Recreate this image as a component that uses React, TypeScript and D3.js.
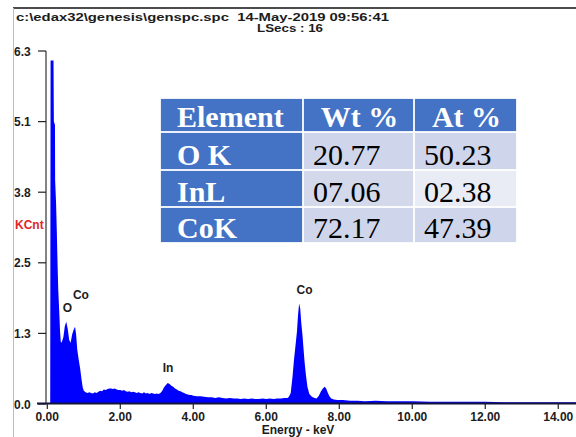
import React from "react";
import * as d3 from "d3";

// EDS spectrum: channel energy (keV) and counts (KCnt)
const energyKeV = [
  0.0, 0.08, 0.09, 0.17, 0.18, 0.21, 0.215, 0.24, 0.26, 0.28, 0.3, 0.33, 0.35, 0.37, 0.39,
  0.42, 0.44, 0.48, 0.52, 0.56, 0.6, 0.64, 0.68, 0.72, 0.76, 0.79, 0.82, 0.86, 0.9, 0.94, 0.97,
  1.0, 1.05, 1.1, 1.15, 1.2, 1.25, 1.3, 1.35, 1.4, 1.45, 1.5, 1.55, 1.6, 1.65, 1.7, 1.75, 1.8,
  1.85, 1.9, 1.95, 2.0, 2.05, 2.1, 2.15, 2.2, 2.25, 2.3, 2.35, 2.4, 2.45, 2.5, 2.55, 2.6, 2.65,
  2.7, 2.75, 2.8, 2.85, 2.9, 2.95, 3.0, 3.05, 3.1, 3.15, 3.2, 3.25, 3.3, 3.35, 3.4, 3.45, 3.5,
  3.55, 3.6, 3.65, 3.7, 3.75, 3.8, 3.85, 3.9, 3.95, 4.0, 4.1, 4.2, 4.3, 4.4, 4.5, 4.6, 4.7, 4.8,
  4.9, 5.0, 5.1, 5.2, 5.3, 5.4, 5.5, 5.6, 5.7, 5.8, 5.9, 6.0, 6.1, 6.2, 6.3, 6.4, 6.5, 6.58,
  6.62, 6.67, 6.72, 6.76, 6.8, 6.84, 6.87, 6.9, 6.93, 6.96, 6.99, 7.02, 7.05, 7.09, 7.13, 7.18,
  7.25, 7.32, 7.38, 7.44, 7.5, 7.55, 7.6, 7.64, 7.68, 7.73, 7.78, 7.85, 7.95, 8.1, 8.3, 8.5,
  8.7, 9.0, 9.3, 9.6, 10.0, 10.5, 11.0, 11.5, 12.0, 12.5, 13.0, 13.5, 14.0, 14.5,
];
const countsKCnt = [
  0, 0, 6.18, 6.18, 5.08, 5.02, 4.02, 3.62, 3.12, 2.55, 2.06, 1.62, 1.3, 1.12, 1.1,
  1.16, 1.2, 1.4, 1.48, 1.35, 1.15, 1.1, 1.25, 1.33, 1.39, 1.25, 0.98, 0.8, 0.64, 0.43, 0.3,
  0.24, 0.21, 0.2, 0.21, 0.2, 0.19, 0.21, 0.2, 0.22, 0.24, 0.23, 0.26, 0.25, 0.27, 0.28, 0.28, 0.27,
  0.28, 0.26, 0.25, 0.25, 0.24, 0.25, 0.23, 0.22, 0.23, 0.21, 0.22, 0.21, 0.2, 0.21, 0.2, 0.19, 0.21,
  0.19, 0.2, 0.18, 0.2, 0.19, 0.18, 0.19, 0.18, 0.2, 0.24, 0.3, 0.34, 0.38, 0.36, 0.33, 0.31, 0.28,
  0.26, 0.24, 0.23, 0.21, 0.2, 0.18, 0.17, 0.16, 0.16, 0.15, 0.14, 0.14, 0.13, 0.12, 0.12, 0.11, 0.12, 0.11,
  0.1, 0.11, 0.1, 0.1, 0.09, 0.1, 0.09, 0.1, 0.09, 0.09, 0.1, 0.09, 0.1, 0.09, 0.1, 0.1, 0.11, 0.11,
  0.13, 0.2, 0.5, 0.8, 1.05, 1.3, 1.6, 1.81, 1.72, 1.45, 1.25, 1.0, 0.75, 0.5, 0.3, 0.18,
  0.13, 0.11, 0.1, 0.15, 0.23, 0.28, 0.31, 0.28, 0.21, 0.14, 0.1, 0.08, 0.07, 0.07, 0.06, 0.06,
  0.05, 0.06, 0.05, 0.05, 0.05, 0.04, 0.04, 0.04, 0.04, 0.03, 0.03, 0.03, 0.03, 0.03,
];

const xTickValues = [0, 2, 4, 6, 8, 10, 12, 14];
const yTickValues = [0, 1.27, 2.54, 3.81, 5.08, 6.35];
const yTickLabels = ["0.0", "1.3", "2.5", "3.8", "5.1", "6.3"];

const peakNames = ["O", "Co", "In", "Co"];
const peakKeV = [0.55, 0.92, 3.31, 7.05];
const peakLabelKCnt = [1.65, 1.89, 0.58, 1.98];

const tableHeader = ["Element", "Wt %", "At %"];
const elementNames = ["O K", "InL", "CoK"];
const wtPercent = ["20.77", "07.06", "72.17"];
const atPercent = ["50.23", "02.38", "47.39"];

const headerLine = "c:\\edax32\\genesis\\genspc.spc  14-May-2019 09:56:41";
const secondsLine = "LSecs : 16";

const W = 576;
const H = 437;
const sans = "'Liberation Sans', Arial, sans-serif";
const serif = "'Liberation Serif', 'Times New Roman', serif";
const ink = "#1c1c1c";
const labelSize = 12;

export default function App() {
  const x = d3.scaleLinear().domain([0, 14.5]).range([47.3, 576.5]);
  const y = d3.scaleLinear().domain([0, 6.35]).range([404, 51]);

  const points = energyKeV.map((e, i) => [e, countsKCnt[i]] as [number, number]);
  const area = d3
    .area<[number, number]>()
    .x((d) => x(d[0]))
    .y0(y(0))
    .y1((d) => y(d[1]))
    .curve(d3.curveLinear);

  // table geometry
  const colEdges = [160, 303, 414, 517];
  const rowEdges = [98, 132, 170, 207, 243];
  const blue = "#4472C4";
  const dataFill = [
    ["#CFD5EA", "#CFD5EA"],
    ["#D3D8EB", "#E9EBF5"],
    ["#CFD5EA", "#CFD5EA"],
  ];
  const gap = 0.9;

  const cells: React.ReactNode[] = [];
  for (let r = 0; r < 4; r++) {
    for (let c = 0; c < 3; c++) {
      const x0 = colEdges[c];
      const x1 = colEdges[c + 1];
      const y0 = rowEdges[r];
      const y1 = rowEdges[r + 1];
      const isBlue = r === 0 || c === 0;
      const fill = isBlue ? blue : dataFill[r - 1][c - 1];
      cells.push(
        <rect
          key={`c${r}${c}`}
          x={x0 + gap}
          y={y0 + gap}
          width={x1 - x0 - 2 * gap}
          height={y1 - y0 - 2 * gap}
          fill={fill}
        />
      );
      let text = "";
      if (r === 0) text = tableHeader[c];
      else if (c === 0) text = elementNames[r - 1];
      else if (c === 1) text = wtPercent[r - 1];
      else text = atPercent[r - 1];
      const baseline = y1 - 5;
      if (r === 0 && c > 0) {
        cells.push(
          <text key={`t${r}${c}`} x={(x0 + x1) / 2 + 1} y={baseline} textAnchor="middle"
            fontFamily={serif} fontWeight="bold" fontSize={30} fill="#ffffff">{text}</text>
        );
      } else if (isBlue) {
        cells.push(
          <text key={`t${r}${c}`} x={x0 + 17} y={baseline} fontFamily={serif}
            fontWeight="bold" fontSize={30} fill="#ffffff" style={{ whiteSpace: "pre" }}>{text}</text>
        );
      } else {
        cells.push(
          <text key={`t${r}${c}`} x={x0 + 10} y={baseline} fontFamily={serif}
            fontSize={30} fill="#000000">{text}</text>
        );
      }
    }
  }

  return (
    <svg width={W} height={H} style={{ position: "absolute", left: 0, top: 0, background: "#fff" }}>
      <rect x={0} y={0} width={W} height={H} fill="#ffffff" />
      {/* frame */}
      <line x1={13} y1={8} x2={W} y2={8} stroke="#111" strokeWidth={1.5} />
      <line x1={13.5} y1={8} x2={13.5} y2={H} stroke="#bdbdbd" strokeWidth={1} />

      {/* header */}
      <text x={16} y={20.5} fontFamily={sans} fontWeight="bold" fontSize={11} fill={ink}
        textLength={373} lengthAdjust="spacingAndGlyphs" style={{ whiteSpace: "pre" }}>{headerLine}</text>
      <text x={257} y={31.5} fontFamily={sans} fontWeight="bold" fontSize={11} fill={ink}
        textLength={66} lengthAdjust="spacingAndGlyphs" style={{ whiteSpace: "pre" }}>{secondsLine}</text>

      {/* spectrum */}
      <path d={area(points) || ""} fill="#0000FF" />

      {/* y axis */}
      <line x1={46} y1={y(6.35)} x2={46} y2={y(0)} stroke="#333" strokeWidth={1.2} />
      {yTickValues.map((v, i) => (
        <g key={`yt${i}`}>
          <line x1={38} x2={46} y1={y(v)} y2={y(v)} stroke="#222" strokeWidth={1.2} />
          <text x={14} y={y(v) + 4.5} fontFamily={sans} fontWeight="bold" fontSize={labelSize} fill={ink}>
            {yTickLabels[i]}
          </text>
        </g>
      ))}
      <text x={15} y={228.5} fontFamily={sans} fontWeight="bold" fontSize={labelSize} fill="#e0262b">KCnt</text>

      {/* x axis */}
      <line x1={37} x2={W} y1={403.5} y2={403.5} stroke="#14143a" strokeWidth={2} />
      {xTickValues.map((v) => (
        <g key={`xt${v}`}>
          <line x1={x(v)} x2={x(v)} y1={403.5} y2={409} stroke="#222" strokeWidth={1.2} />
          <text x={x(v)} y={420.5} textAnchor="middle" fontFamily={sans} fontWeight="bold" fontSize={labelSize} fill={ink}>
            {v.toFixed(2)}
          </text>
        </g>
      ))}
      <text x={298} y={433.5} textAnchor="middle" fontFamily={sans} fontWeight="bold" fontSize={labelSize} fill={ink}>
        Energy - keV
      </text>

      {/* peak labels */}
      {peakNames.map((name, i) => (
        <text key={`pk${i}`} x={x(peakKeV[i])} y={y(peakLabelKCnt[i])} textAnchor="middle"
          fontFamily={sans} fontWeight="bold" fontSize={labelSize} fill={ink}>{name}</text>
      ))}

      {/* quantification table */}
      <rect x={colEdges[0]} y={rowEdges[0]} width={colEdges[3] - colEdges[0]}
        height={rowEdges[4] - rowEdges[0]} fill="#ffffff" />
      {cells}
    </svg>
  );
}
